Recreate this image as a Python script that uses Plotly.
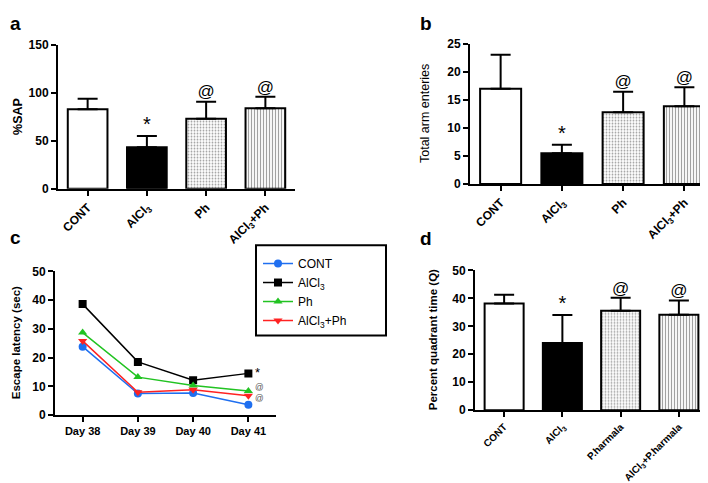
import plotly.graph_objects as go

W, H = 708, 483

# ---------------- data ----------------
groups_ab = ["CONT", "AlCl<sub>3</sub>", "Ph", "AlCl<sub>3</sub>+Ph"]
groups_d = ["CONT", "AlCl<sub>3</sub>", "P.harmala", "AlCl<sub>3</sub>+P.harmala"]
sig_marks = ["", "*", "@", "@"]

sap_mean = [83, 43.5, 73, 84]
sap_err = [11, 11.5, 18, 12]

arm_mean = [17.0, 5.5, 12.8, 13.9]
arm_err = [6.1, 1.5, 3.7, 3.4]

quad_mean = [38.2, 24.0, 35.6, 34.1]
quad_err = [3.1, 10.0, 4.6, 5.1]

days = ["Day 38", "Day 39", "Day 40", "Day 41"]
lat_cont = [23.8, 7.5, 7.7, 3.6]
lat_alcl3 = [38.6, 18.5, 12.1, 14.5]
lat_ph = [28.7, 13.2, 10.3, 8.4]
lat_alcl3ph = [25.8, 7.9, 8.8, 6.7]
lat_marks = ["*", "@", "@"]

# ---------------- helpers ----------------
FONT = "Liberation Sans, Arial, sans-serif"


def fx(px):
    return px / W


def fy(py):
    return 1 - py / H


def px_x(a, b):
    return [fx(a), fx(b)]


def px_y(top, bottom):
    return [fy(bottom), fy(top)]


fig = go.Figure()

bar_colors = ["white", "black", "white", "white"]
pat_shapes = ["", "", ".", "|"]
pat_fg = ["black", "black", "#666666", "black"]
pat_sol = [0.3, 0.3, 0.3, 0.4]


def add_bar_panel(means, errs, xa, ya, star_size=20, at_size=17):
    idx = list(range(len(means)))
    fig.add_trace(go.Bar(
        x=idx, y=means, width=0.67, xaxis=xa, yaxis=ya, showlegend=False,
        marker=dict(color=bar_colors, line=dict(color="black", width=2),
                    pattern=dict(shape=pat_shapes, fgcolor=pat_fg, size=3,
                                 solidity=pat_sol, fillmode="overlay")),
        error_y=dict(type="data", symmetric=False, array=errs,
                     arrayminus=[0] * len(errs), color="black",
                     thickness=2, width=10),
    ))
    tops = [m + e for m, e in zip(means, errs)]
    keep = [i for i, s in enumerate(sig_marks) if s]
    fig.add_trace(go.Scatter(
        x=[idx[i] for i in keep], y=[tops[i] for i in keep],
        mode="text", text=[sig_marks[i] for i in keep], textposition="top center",
        xaxis=xa, yaxis=ya, showlegend=False, hoverinfo="skip",
        textfont=dict(family=FONT, size=[star_size if sig_marks[i] == "*" else at_size for i in keep],
                      color="black"),
    ))


add_bar_panel(sap_mean, sap_err, "x", "y")
add_bar_panel(arm_mean, arm_err, "x2", "y2")
add_bar_panel(quad_mean, quad_err, "x4", "y4")

# line panel c
line_series = [
    ("CONT", lat_cont, "#1f6ff0", "circle"),
    ("AlCl<sub>3</sub>", lat_alcl3, "black", "square"),
    ("Ph", lat_ph, "#22c322", "triangle-up"),
    ("AlCl<sub>3</sub>+Ph", lat_alcl3ph, "#ff2222", "triangle-down"),
]
for name, vals, col, sym in line_series:
    fig.add_trace(go.Scatter(
        x=list(range(len(days))), y=vals, name=name, mode="lines+markers",
        xaxis="x3", yaxis="y3",
        line=dict(color=col, width=1.5),
        marker=dict(color=col, symbol=sym, size=8),
    ))

# significance marks at Day 41
last_vals = [lat_alcl3[-1], lat_ph[-1], lat_alcl3ph[-1]]
mark_cols = ["black", "#555555", "#555555"]
mark_sizes = [13, 8.5, 8.5]
mark_shift = [1, 4, -2]
for v, t, c, s, sh in zip(last_vals, lat_marks, mark_cols, mark_sizes, mark_shift):
    fig.add_annotation(x=len(days) - 1, y=v, xref="x3", yref="y3", text=t,
                       showarrow=False, xanchor="left", xshift=5, yshift=sh,
                       font=dict(family=FONT, size=s, color=c))

# ---------------- axes ----------------
def axis(size=12, **kw):
    d = dict(showline=True, linecolor="black", linewidth=2,
             ticks="outside", ticklen=5, tickwidth=2, tickcolor="black",
             showgrid=False, zeroline=False,
             tickfont=dict(family=FONT, size=size, color="black", weight="bold"))
    d.update(kw)
    return d


layout = dict(
    width=W, height=H, margin=dict(l=0, r=0, t=0, b=0),
    paper_bgcolor="white", plot_bgcolor="white",
    font=dict(family=FONT, color="black"),
)

# a
layout["xaxis"] = axis(12, domain=px_x(50, 287), range=[-0.5, 3.5], anchor="y",
                       tickvals=[0, 1, 2, 3], ticktext=groups_ab, tickangle=-45)
layout["yaxis"] = axis(12, domain=px_y(31, 179), range=[0, 150], anchor="x", dtick=50)
# b
layout["xaxis2"] = axis(12, domain=px_x(462, 707), range=[-0.5, 3.5], anchor="y2",
                        tickvals=[0, 1, 2, 3], ticktext=groups_ab, tickangle=-45)
layout["yaxis2"] = axis(12, domain=px_y(30, 174), range=[0, 25], anchor="x2", dtick=5)
# c
layout["xaxis3"] = axis(11, domain=px_x(47, 268), range=[-0.5, 3.5], anchor="y3",
                        tickvals=[0, 1, 2, 3], ticktext=days, tickangle=0)
layout["yaxis3"] = axis(12, domain=px_y(264, 412), range=[0, 50], anchor="x3", dtick=10)
# d
layout["xaxis4"] = axis(10, domain=px_x(467, 700), range=[-0.5, 3.5], anchor="y4",
                        tickvals=[0, 1, 2, 3], ticktext=groups_d, tickangle=-45)
layout["yaxis4"] = axis(12, domain=px_y(263, 407), range=[0, 50], anchor="x4", dtick=10)

layout["legend"] = dict(x=fx(250), y=fy(241), xanchor="left", yanchor="top",
                        bgcolor="rgba(0,0,0,0)", borderwidth=0,
                        font=dict(family=FONT, size=12, color="black"),
                        tracegroupgap=0, itemwidth=30)

fig.update_layout(**layout)

# legend frame
fig.add_shape(type="rect", xref="paper", yref="paper",
              x0=fx(248), x1=fx(378), y0=fy(330), y1=fy(237),
              line=dict(color="black", width=2), fillcolor="rgba(0,0,0,0)")

# axis titles (as text annotations)
titles = [
    ("%SAP", 10, (31 + 179) / 2, True, 12.5),
    ("Total arm enteries", 417, (30 + 174) / 2, False, 12.5),
    ("Escape latency (sec)", 8, (264 + 412) / 2, True, 11.5),
    ("Percent quadrant time (Q)", 425, (263 + 407) / 2, True, 11.5),
]
for t, x, y, bold, s in titles:
    fig.add_annotation(x=fx(x), y=fy(y), xref="paper", yref="paper", text=t,
                       textangle=-90, showarrow=False, xanchor="center", yanchor="middle",
                       font=dict(family=FONT, size=s, color="black",
                                 weight="bold" if bold else "normal"))

# panel letters
for t, x, y in [("a", 7, 9), ("b", 418, 9), ("c", 7, 229), ("d", 418, 230)]:
    fig.add_annotation(x=fx(x), y=fy(y), xref="paper", yref="paper", text=t,
                       showarrow=False, xanchor="center", yanchor="middle",
                       font=dict(family=FONT, size=19, color="black", weight="bold"))

fig.write_html("out.html")
